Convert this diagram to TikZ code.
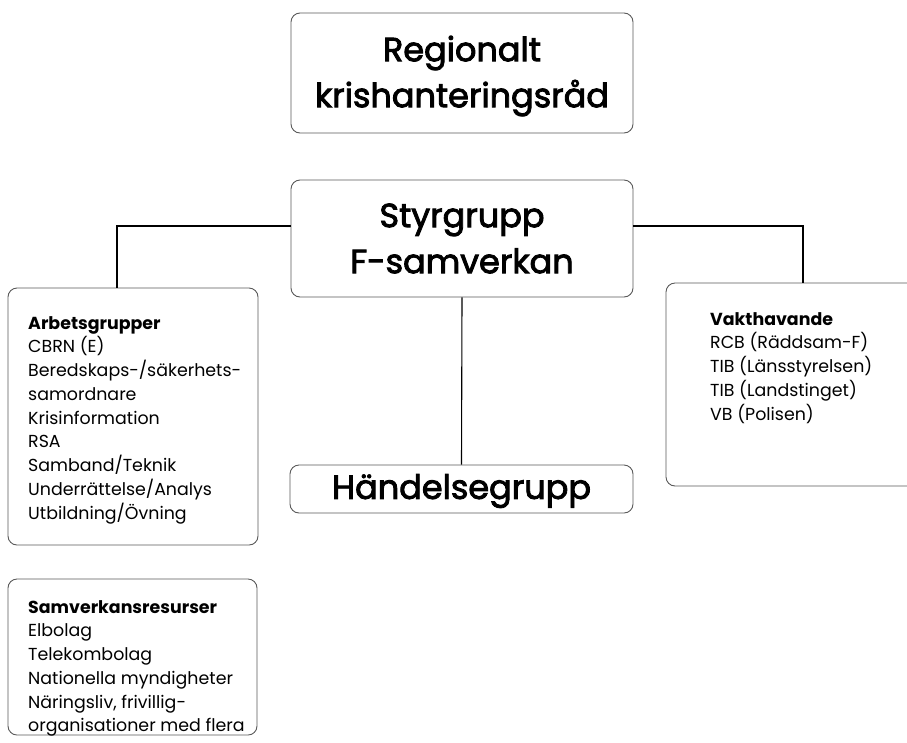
\documentclass[tikz,border=0pt]{standalone}
\usepackage{fontspec}
\setmainfont{Poppins}
\newfontfamily\titlefont[FakeBold=2.6]{Poppins}
\begin{document}
\begin{tikzpicture}[x=1pt,y=-1pt,
  box/.style={draw=black!65, line width=0.9pt, rounded corners=9pt, anchor=center, inner sep=0pt},
  title/.style={font=\titlefont\fontsize{33.5}{46}\selectfont, align=center},
  list/.style={font=\fontsize{17.4}{23.75}\selectfont, align=left, anchor=north west, inner sep=0pt},
  link/.style={draw=black, line width=1.1pt}]
\useasboundingbox (0,0) rectangle (907,742);

% main chain
\node[box, minimum width=342pt, minimum height=120pt] (rad) at (462,73) {};
\node[title] (radtext) at ([yshift=-3pt]rad.center) {Regionalt\\krishanteringsråd};

\node[box, minimum width=342pt, minimum height=117pt] (styr) at (462,238.5) {};
\node[title] (styrtext) at (styr.center) {Styrgrupp\\F-samverkan};

\node[box, minimum width=343pt, minimum height=48pt] (hand) at (461.5,489) {};
\node[title] (handtext) at ([yshift=-2pt]hand.center) {Händelsegrupp};

% side boxes
\node[box, minimum width=250pt, minimum height=257pt] (arb) at (133,416.5) {};
\node[list] (arbtext) at (28,316) {\textbf{Arbetsgrupper}\\CBRN (E)\\Beredskaps-/säkerhets-\\samordnare\\Krisinformation\\RSA\\Samband/Teknik\\Underrättelse/Analys\\Utbildning/Övning};

\node[box, minimum width=249pt, minimum height=156pt] (res) at (132.5,657) {};
\node[list] (restext) at (28,600) {\textbf{Samverkansresurser}\\Elbolag\\Telekombolag\\Nationella myndigheter\\Näringsliv, frivillig-\\organisationer med flera};

% this box runs past the right edge of the page
\node[box, minimum width=252pt, minimum height=203pt] (vakt) at (792,384.5) {};
\node[list] (vakttext) at (710,312) {\textbf{Vakthavande}\\RCB (Räddsam-F)\\TIB (Länsstyrelsen)\\TIB (Landstinget)\\VB (Polisen)};

% connectors
\coordinate (lknee) at (117,226);
\coordinate (rknee) at (803,226);
\draw[link] (styr.west |- lknee) -- (lknee) -- (lknee |- arb.north);
\draw[link] (styr.east |- rknee) -- (rknee) -- (rknee |- vakt.north);
\draw[link] (styr.south) -- (hand.north);
\end{tikzpicture}
\end{document}
